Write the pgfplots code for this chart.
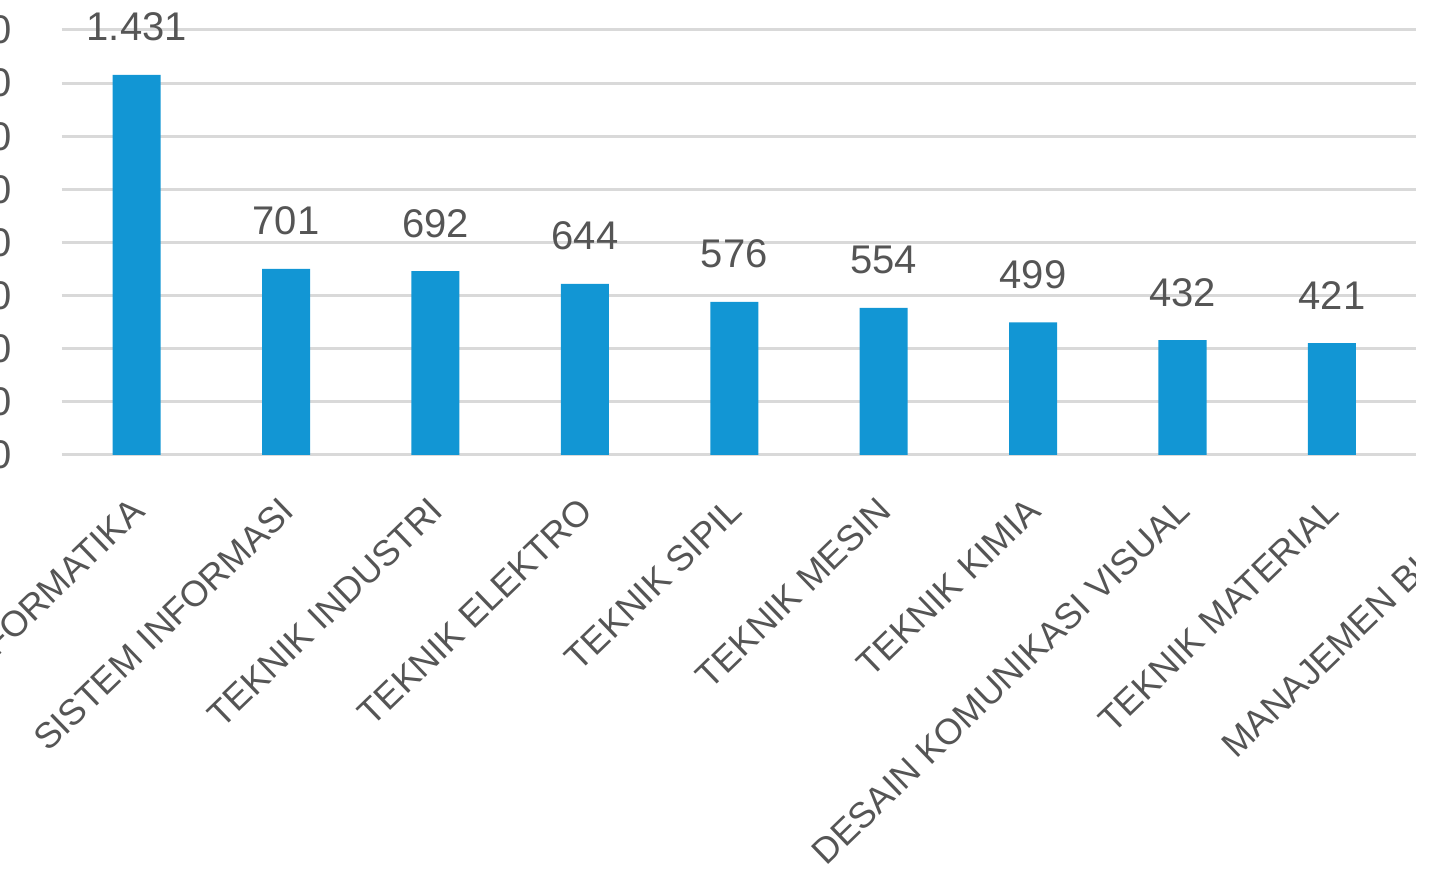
\documentclass[border=0pt]{standalone}
\usepackage{pgfplots}
\pgfplotsset{compat=1.18}
\usepackage{fontspec}
\setmainfont{Liberation Sans}
\definecolor{barblue}{HTML}{1296D4}
\definecolor{txtgray}{HTML}{555555}
\definecolor{gridgray}{HTML}{D9D9D9}
\begin{document}
\begin{tikzpicture}
\begin{axis}[
  at={(31pt,213pt)}, anchor=south west,
  scale only axis,
  width=747pt, height=212.5pt,
  xmin=-0.5, xmax=9.5, ymin=0, ymax=1600,
  ybar, bar width=24pt,
  ytick={0,200,...,1600},
  xtick={0,...,9},
  xticklabels={INFORMATIKA, SISTEM INFORMASI, TEKNIK INDUSTRI, TEKNIK ELEKTRO,
    TEKNIK SIPIL, TEKNIK MESIN, TEKNIK KIMIA, DESAIN KOMUNIKASI VISUAL,
    TEKNIK MATERIAL, MANAJEMEN BISNIS},
  /pgf/number format/assume math mode=true,
  /pgf/number format/1000 sep={.},
  axis line style={draw=none},
  tick style={draw=none},
  ymajorgrids,
  grid style={gridgray, line width=1.5pt},
  yticklabel style={font=\fontsize{20pt}{24pt}\selectfont, text=txtgray,
    anchor=east, inner sep=0pt, xshift=-25pt},
  xticklabel style={font=\fontsize{18pt}{21pt}\selectfont, text=txtgray,
    rotate=44, anchor=north east, inner sep=0pt, xshift=-13.8pt, yshift=-8.7pt},
  nodes near coords,
  every node near coord/.append style={font=\fontsize{20pt}{24pt}\selectfont,
    text=txtgray, anchor=base, inner sep=0pt, yshift=17pt},
  clip=false,
]
\addplot[fill=barblue, draw=none] coordinates {
  (0,1431) (1,701) (2,692) (3,644) (4,576) (5,554) (6,499) (7,432) (8,421)
};
\end{axis}
\pgfresetboundingbox
\useasboundingbox (0,0) rectangle (715.5pt,440.5pt);
\fill[white] (708pt,0) rectangle (716pt,441pt);
\end{tikzpicture}
\end{document}
